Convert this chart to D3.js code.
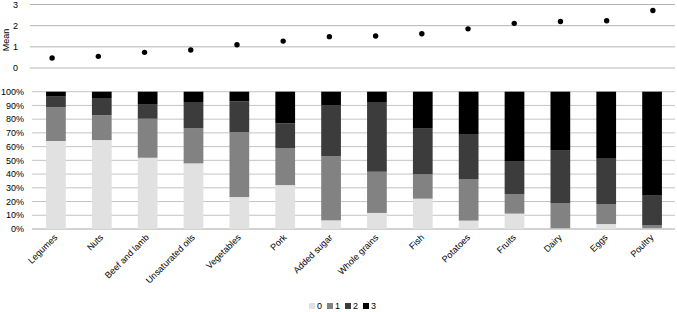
<!DOCTYPE html>
<html><head><meta charset="utf-8">
<script src="https://cdn.jsdelivr.net/npm/d3@7"></script>
<style>body{margin:0;background:#fff;} svg{display:block;} text{font-family:"Liberation Sans",Arial,sans-serif;fill:#000;}</style>
</head><body>
<svg id="c" width="677" height="312"></svg>
<script>
const categories = ["Legumes","Nuts","Beef and lamb","Unsaturated oils","Vegetables","Pork","Added sugar","Whole grains","Fish","Potatoes","Fruits","Dairy","Eggs","Poultry"];
const means = [0.47,0.55,0.74,0.85,1.10,1.27,1.48,1.51,1.62,1.85,2.11,2.20,2.23,2.72];
const score0 = [64.1,64.8,51.9,47.8,23.3,32.0,6.3,11.7,22.1,6.1,11.2,0.5,3.6,0.5];
const score1 = [24.7,18.0,28.4,25.7,47.3,27.0,46.6,30.0,17.7,30.3,14.3,18.4,14.6,2.4];
const score2 = [8.0,12.6,10.7,19.0,22.4,17.9,37.4,50.8,33.3,32.8,24.0,38.6,33.0,21.4];
const score3 = [3.2,4.6,9.0,7.5,7.0,23.1,9.7,7.5,26.9,30.8,50.5,42.5,48.8,75.7];
const seriesKeys = ["0","1","2","3"];
const meanTicks = [0,1,2,3];
const pctTicks = [0,10,20,30,40,50,60,70,80,90,100];
const colors = ["#e1e1e1","#828282","#3c3c3c","#000000"];

const svg = d3.select("#c");

// Top: mean dots
const xTop = d3.scaleBand().domain(categories).range([29,676]);
const yTop = d3.scaleLinear().domain([0,3]).range([68,4.5]);
const gTop = svg.append("g");
gTop.selectAll("line.g").data(meanTicks).join("line")
  .attr("x1",30).attr("x2",675)
  .attr("y1",d=>yTop(d)).attr("y2",d=>yTop(d))
  .attr("stroke","#b4b4b4").attr("stroke-width",1);
gTop.selectAll("text.t").data(meanTicks).join("text")
  .attr("x",18).attr("y",d=>yTop(d)).attr("dy","0.35em")
  .attr("text-anchor","end").attr("font-size",9).text(d=>d);
gTop.append("text").attr("transform","translate(9,40) rotate(-90)")
  .attr("text-anchor","middle").attr("font-size",9).text("Mean");
gTop.selectAll("circle").data(categories).join("circle")
  .attr("cx",d=>xTop(d)+xTop.bandwidth()/2)
  .attr("cy",(d,i)=>yTop(means[i]))
  .attr("r",2.7).attr("fill","#000");

// Bottom: stacked 100% bars
const x = d3.scaleBand().domain(categories).range([33,675]).paddingInner(0.57).paddingOuter(0.285);
const y = d3.scaleLinear().domain([0,100]).range([229,91.7]);
const rows = categories.map((c,i)=>({cat:c,"0":score0[i],"1":score1[i],"2":score2[i],"3":score3[i]}));
const stack = d3.stack().keys(seriesKeys)(rows);
const gB = svg.append("g");
gB.selectAll("line.g").data(pctTicks).join("line")
  .attr("x1",32).attr("x2",675)
  .attr("y1",d=>y(d)).attr("y2",d=>y(d))
  .attr("stroke",d=>d===0?"#a6a6a6":"#c4c4c4").attr("stroke-width",1);
gB.selectAll("text.t").data(pctTicks).join("text")
  .attr("x",24).attr("y",d=>y(d)).attr("dy","0.35em")
  .attr("text-anchor","end").attr("font-size",9).text(d=>d+"%");
stack.forEach((s,k)=>{
  gB.append("g").attr("fill",colors[k]).selectAll("rect").data(s).join("rect")
    .attr("x",d=>x(d.data.cat)).attr("width",x.bandwidth())
    .attr("y",d=>y(d[1])).attr("height",d=>y(d[0])-y(d[1]));
});
gB.selectAll("text.xl").data(categories).join("text")
  .attr("transform",d=>`translate(${x(d)+x.bandwidth()/2+2},238) rotate(-45)`)
  .attr("text-anchor","end").attr("font-size",9).text(d=>d);

// Legend
const lg = svg.append("g").attr("transform","translate(309,306)");
seriesKeys.forEach((k,i)=>{
  const g = lg.append("g").attr("transform",`translate(${i*18},0)`);
  g.append("rect").attr("x",0).attr("y",-3).attr("width",6).attr("height",6).attr("fill",colors[i]);
  g.append("text").attr("x",8).attr("y",0).attr("dy","0.35em").attr("font-size",9).text(k);
});
</script>
</body></html>
